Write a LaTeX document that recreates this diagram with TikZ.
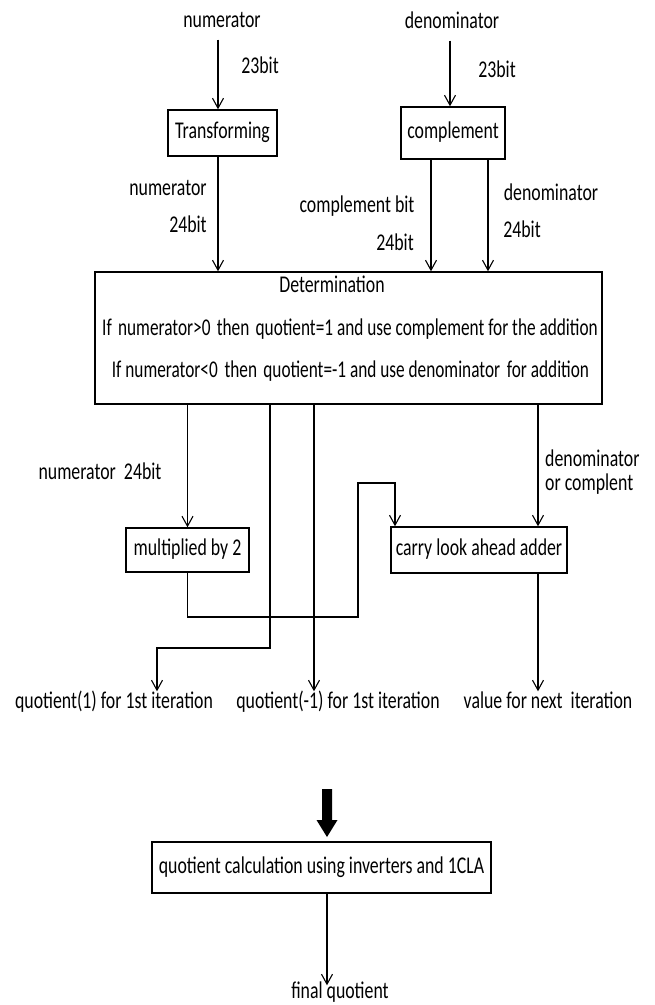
\documentclass[tikz,border=0pt]{standalone}
\usepackage{fontspec}
\setmainfont{Carlito}
\usepackage{graphicx}
\usetikzlibrary{arrows.meta,calc}
\newcommand{\vs}[1]{\scalebox{1}[1.35]{#1}}
\newcommand{\vsn}[1]{\scalebox{0.97}[1.35]{#1}}
\begin{document}
\begin{tikzpicture}[x=1pt,y=-1pt,
  every node/.style={font=\fontsize{17.8}{20}\selectfont},
  lab/.style={inner sep=2pt, text height=15pt, text depth=4pt},
  box/.style={draw, line width=1.4pt, inner sep=0pt, text height=15pt, text depth=4pt},
  arr/.style={line width=1.1pt, -{Straight Barb[length=10pt,width=11pt,line width=1.1pt]}}]
\useasboundingbox[fill=white] (0,0) rectangle (655,1005);

% top
\node[lab] (numIn) at (222,22) {\vs{numerator}};
\node[lab] (b23a) at (260,68) {\vs{23bit}};
\node[box, minimum width=109pt, minimum height=46pt] (trans) at (222.5,133) {\vs{Transforming}};
\node[lab] (denIn) at (452,23) {\vs{denominator}};
\node[lab] (b23b) at (497,72) {\vs{23bit}};
\node[box, minimum width=104pt, minimum height=52pt] (comp) at (453,133) {\vs{complement}};

% determination
\node[box, minimum width=507pt, minimum height=132pt] (det) at (348.5,338) {};
\node[lab] (detT) at (332,287) {\vs{Determination}};
\node[lab] (detA) at (350,330) {\vsn{If\hspace{6.5pt}numerator>0\hspace{6.5pt}then\hspace{6.5pt}quotient=1 and use complement for the addition}};
\node[lab] (detB) at (350.5,372) {\vsn{If numerator<0\hspace{7pt}then\hspace{6.5pt}quotient=-1 and use denominator\hspace{7pt}for addition}};

\node[lab] (nl) at (168,190) {\vs{numerator}};
\node[lab] (nb) at (188,227) {\vs{24bit}};
\node[lab] (cl) at (357,207) {\vs{complement bit}};
\node[lab] (cb) at (395,245) {\vs{24bit}};
\node[lab] (dl) at (551,195) {\vs{denominator}};
\node[lab] (db) at (522,232) {\vs{24bit}};

% lower
\node[box, minimum width=123pt, minimum height=44pt] (mul) at (187.5,550) {\vs{multiplied by 2}};
\node[box, minimum width=176pt, minimum height=46pt] (cla) at (479,550) {\vs{carry look ahead adder}};
\node[lab] (n24) at (100,474) {\vs{numerator\ \ 24bit}};
\node[lab, anchor=west] (dc1) at (543,461) {\vs{denominator}};
\node[lab, anchor=west] (dc2) at (543,485) {\vs{or complent}};

\node[lab] (q1) at (114,703) {\vs{quotient(1) for 1st iteration}};
\node[lab] (q2) at (338,703) {\vs{quotient(-1) for 1st iteration}};
\node[lab] (vn) at (548,703) {\vs{value for next\ \ iteration}};

% bottom
\coordinate (thk) at (327,789);
\node[box, minimum width=339pt, minimum height=51pt] (qc) at (321.5,867.5) {\vs{quotient calculation using inverters and 1CLA}};
\node[lab] (fq) at (340,993) {\vs{final quotient}};

% connectors top
\coordinate (tA) at ([xshift=-4.5pt]trans.north);
\coordinate (tB) at ([xshift=-4.5pt]trans.south);
\draw[arr, shorten <=6pt] (tA |- numIn.south) -- (tA);
\draw[arr] (tB) -- (tB |- det.north);
\coordinate (cA) at ([xshift=-3pt]comp.north);
\draw[arr, shorten <=6pt] (cA |- denIn.south) -- (cA);
\coordinate (cB) at ([xshift=-22pt]comp.south);
\coordinate (cC) at ([xshift=35pt]comp.south);
\draw[arr] (cB) -- (cB |- det.north);
\draw[arr] (cC) -- (cC |- det.north);

% connectors lower
\draw[arr] (mul.north |- det.south) -- (mul.north);
\coordinate (cD) at ([xshift=59pt]cla.north);
\draw[arr] (cD |- det.south) -- (cD);
\coordinate (m1) at (358,617);
\coordinate (m2) at (395,483);
\draw[arr] (mul.south) |- (m1) |- (m2) -- (m2 |- cla.north);
\coordinate (k1) at (157,648);
\coordinate (dE) at ([xshift=-78.5pt]det.south);
\draw[arr] (dE) |- (k1) -- (k1 |- q1.north);
\coordinate (dF) at ([xshift=-34.5pt]det.south);
\draw[arr] (dF) -- (dF |- q2.north);
\coordinate (cE) at ([xshift=59pt]cla.south);
\draw[arr] (cE) -- (cE |- vn.north);

% thick arrow and final
\fill ($(thk)+(-5,0)$) -- ($(thk)+(5,0)$) -- ($(thk)+(5,31)$) -- ($(thk)+(10.5,31)$) -- ($(thk)+(0,48)$) -- ($(thk)+(-10.5,31)$) -- ($(thk)+(-5,31)$) -- cycle;
\draw[arr, shorten >=-4pt] (qc.south -| thk) -- (fq.north -| thk);
\end{tikzpicture}
\end{document}
